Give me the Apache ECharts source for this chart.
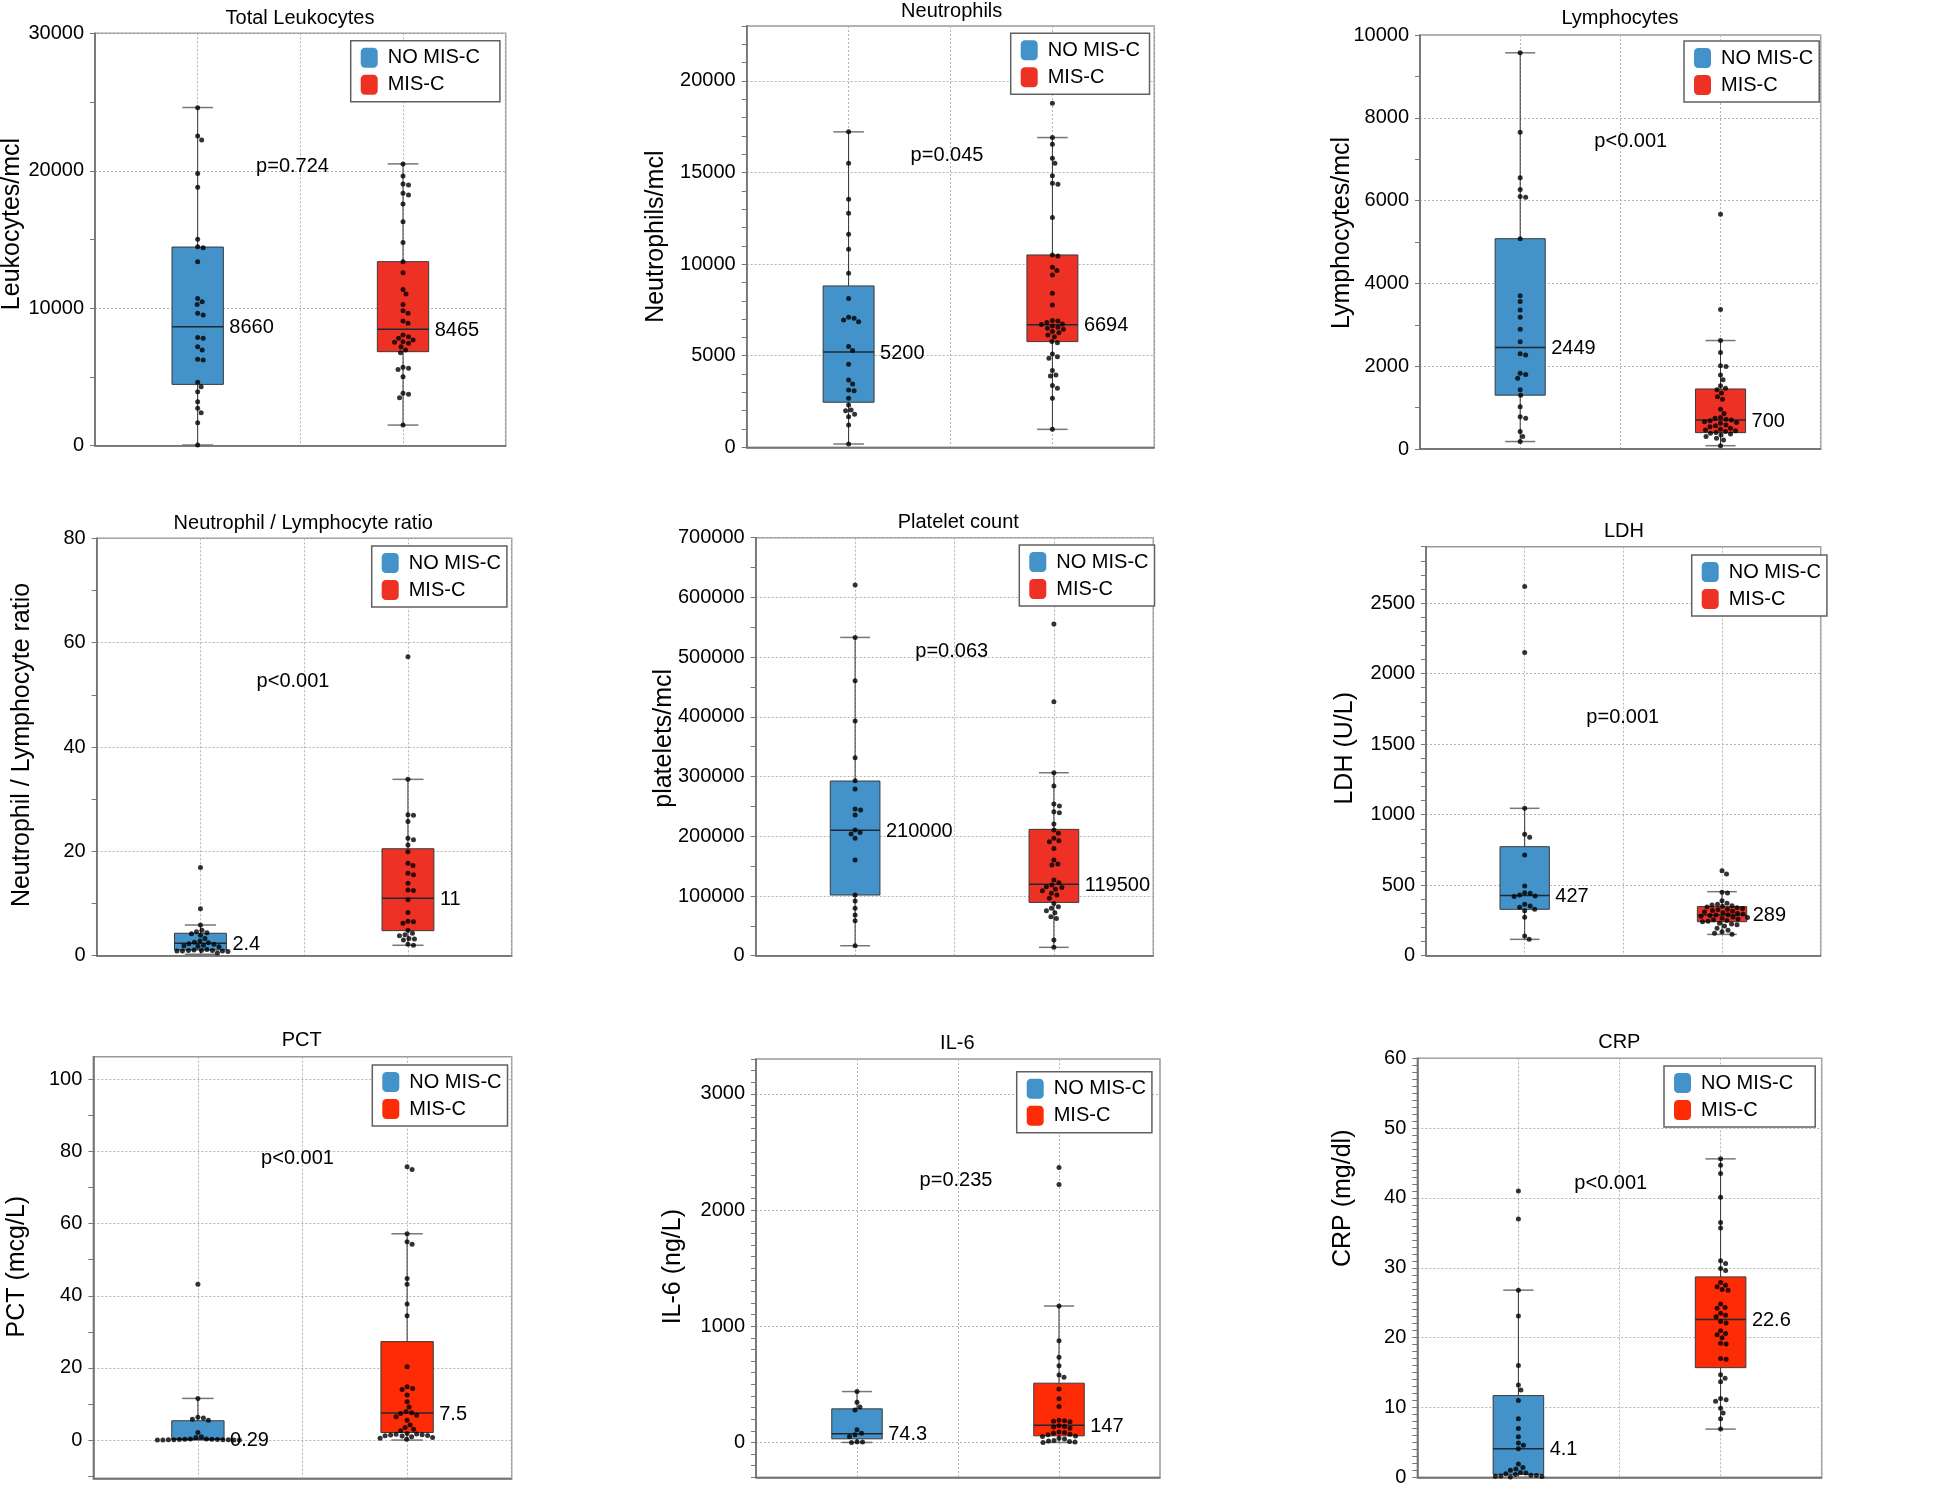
<!DOCTYPE html>
<html>
<head>
<meta charset="utf-8">
<title>MIS-C vs NO MIS-C laboratory values</title>
<script src="https://cdn.jsdelivr.net/npm/echarts@6/dist/echarts.min.js"></script>
<style>
html, body { margin: 0; padding: 0; background: #fff; }
#main { width: 1960px; height: 1488px; }
</style>
</head>
<body>
<div id="main"></div>
<script>
// ---- data ----
var groupNames = ['NO MIS-C', 'MIS-C'];
var panelTitles = ['Total Leukocytes', 'Neutrophils', 'Lymphocytes', 'Neutrophil / Lymphocyte ratio',
    'Platelet count', 'LDH', 'PCT', 'IL-6', 'CRP'];
var yNames = ['Leukocytes/mcl', 'Neutrophils/mcl', 'Lymphocytes/mcl', 'Neutrophil / Lymphocyte ratio',
    'platelets/mcl', 'LDH (U/L)', 'PCT (mcg/L)', 'IL-6 (ng/L)', 'CRP (mg/dl)'];
var pTexts = ['p=0.724', 'p=0.045', 'p<0.001', 'p<0.001', 'p=0.063', 'p=0.001', 'p<0.001', 'p=0.235', 'p<0.001'];

// box stats: [min, Q1, median, Q3, max]
var leukoBoxes = [[50, 4460, 8660, 14450, 24600], [1500, 6840, 8465, 13390, 20500]];
var neutroBoxes = [[180, 2460, 5200, 8810, 17220], [980, 5770, 6694, 10500, 16910]];
var lymphoBoxes = [[180, 1300, 2449, 5080, 9570], [80, 395, 700, 1450, 2620]];
var nlrBoxes = [[0.3, 1.1, 2.4, 4.3, 5.9], [2.0, 4.8, 11, 20.5, 33.8]];
var pltBoxes = [[16700, 101600, 210000, 292500, 533000], [14000, 89300, 119500, 211600, 306400]];
var ldhBoxes = [[116, 329, 427, 773, 1045], [151, 241, 289, 348, 454]];
var pctBoxes = [[0, 0.18, 0.29, 5.36, 11.55], [0, 2.1, 7.5, 27.3, 57.2]];
var il6Boxes = [[0, 31, 74.3, 289, 438], [0, 57, 147, 510, 1174]];
var crpBoxes = [[0, 0.43, 4.1, 11.7, 26.8], [6.9, 15.7, 22.6, 28.7, 45.6]];

// individual patients
var leukoNoMis = [24590, 22530, 22240, 19810, 18800, 15010, 14480, 14400, 13390, 10700, 10480, 10280, 9630, 9510,
    7880, 7810, 7200, 6960, 6280, 6230, 4610, 4290, 3930, 3200, 2720, 2400, 1670, 50];
var leukoMis = [20490, 19620, 19040, 18970, 18360, 18240, 17580, 16300, 14790, 13390, 12590, 11370, 11040, 10280,
    9820, 9630, 9070, 8900, 8050, 7930, 7810, 7690, 7570, 7520, 7450, 7200, 6960, 6770, 5700, 5630, 5550, 5020,
    3810, 3740, 3490, 1500];
var neutroNoMis = [17220, 15510, 13540, 12780, 11630, 10810, 9500, 8130, 7100, 7040, 6950, 6860, 5500, 5280, 4530,
    3680, 3460, 3130, 3090, 2680, 2310, 2040, 2000, 1800, 1670, 1220, 180];
var neutroMis = [18780, 16910, 16540, 15780, 15510, 14830, 14410, 14360, 12540, 10500, 10450, 9830, 9650, 9410,
    8410, 7770, 6920, 6900, 6810, 6730, 6700, 6620, 6550, 6500, 6440, 6320, 6260, 6130, 6040, 5770, 5710, 5100,
    4950, 4860, 4190, 3950, 3890, 3370, 3220, 2680, 980];
var lymphoNoMis = [9570, 7650, 6550, 6270, 6100, 6080, 5080, 3700, 3560, 3360, 3180, 2890, 2590, 2300, 2270, 1830,
    1800, 1710, 1430, 1300, 1020, 780, 740, 420, 300, 180];
var lymphoMis = [5670, 3370, 2620, 2330, 2010, 1990, 1790, 1670, 1530, 1470, 1430, 1350, 1260, 1200, 960, 860, 760,
    740, 720, 700, 680, 660, 640, 620, 580, 560, 540, 500, 480, 460, 440, 420, 400, 380, 360, 340, 300, 260, 220, 80];
var nlrNoMis = [16.9, 9.0, 5.9, 4.9, 4.6, 4.4, 4.2, 3.9, 3.3, 2.8, 2.6, 2.5, 2.3, 2.2, 2.0, 1.9, 1.8, 1.7, 1.2, 1.1,
    1.0, 1.0, 1.0, 0.9, 0.9, 0.9, 0.8, 0.5];
var nlrMis = [57.3, 33.8, 27.0, 26.9, 25.7, 22.5, 22.2, 21.2, 19.9, 17.7, 17.3, 15.8, 15.5, 13.9, 12.6, 12.5, 10.7,
    8.3, 6.6, 6.5, 6.2, 4.9, 4.3, 4.0, 3.8, 3.3, 3.2, 3.0, 2.2, 2.0];
var pltNoMis = [620700, 533000, 460500, 393000, 331600, 293000, 279100, 245600, 243900, 235600, 210400, 206500,
    203700, 196500, 160200, 101600, 91500, 79300, 68100, 58600, 16700];
var pltMis = [555400, 425300, 306400, 284100, 254000, 250600, 241100, 239400, 220500, 210400, 204900, 196500, 192600,
    190900, 179700, 160200, 153500, 151800, 126700, 122200, 118300, 115500, 114400, 111100, 108800, 104400, 101600,
    96000, 87600, 82000, 79300, 75400, 72000, 65300, 62500, 26200, 14000];
var ldhNoMis = [2618, 2150, 1045, 861, 840, 714, 494, 447, 442, 430, 423, 419, 364, 352, 343, 329, 319, 272, 140, 116];
var ldhMis = [603, 580, 450, 445, 390, 372, 365, 360, 355, 350, 345, 340, 335, 330, 325, 320, 315, 310, 305, 300, 295,
    290, 289, 285, 280, 275, 270, 265, 260, 255, 250, 245, 240, 230, 225, 220, 210, 195, 180, 170, 160, 152];
var pctNoMis = [43.2, 11.5, 6.3, 6.1, 5.8, 5.5, 2.1, 0.9, 0.7, 0.3, 0.28, 0.25, 0.2, 0.18, 0.15, 0.12, 0.1, 0.08,
    0.06, 0.05, 0.03, 0.02, 0.01];
var pctMis = [75.8, 75.0, 57.2, 55.0, 54.3, 44.8, 43.2, 37.7, 34.5, 20.3, 14.8, 14.3, 14.0, 12.5, 10.6, 9.2, 7.9, 7.6,
    7.4, 6.9, 6.5, 5.5, 4.2, 3.5, 3.0, 2.6, 1.8, 1.7, 1.6, 1.5, 1.4, 1.3, 1.2, 1.1, 0.9, 0.7, 0.5, 0.2];
var il6NoMis = [438, 345, 305, 280, 110, 80, 66, 52, 5, 3, 0];
var il6Mis = [2367, 2219, 1174, 876, 733, 661, 581, 561, 461, 375, 309, 190, 186, 182, 178, 143, 138, 132, 123, 90,
    86, 80, 70, 66, 56, 52, 37, 29, 17, 12, 9, 4, 0];
var crpNoMis = [41.0, 37.0, 26.8, 23.1, 16.0, 13.2, 12.5, 11.0, 8.4, 7.0, 5.8, 4.9, 4.6, 4.1, 1.9, 1.4, 1.2, 1.0, 0.7,
    0.6, 0.5, 0.4, 0.3, 0.25, 0.2, 0.15, 0.1, 0.05];
var crpMis = [45.6, 44.7, 43.5, 40.1, 36.5, 35.7, 31.0, 30.6, 29.9, 29.6, 27.9, 27.5, 27.3, 26.9, 26.8, 24.8, 24.3,
    24.2, 23.5, 23.2, 23.0, 22.3, 22.1, 21.0, 20.6, 20.4, 20.0, 19.2, 19.1, 17.0, 16.9, 14.7, 14.2, 13.7, 11.3, 11.1,
    10.9, 9.9, 9.2, 8.4, 6.9];

// y tick labels
var leukoTicks = [0, 10000, 20000, 30000];
var neutroTicks = [0, 5000, 10000, 15000, 20000];
var lymphoTicks = [0, 2000, 4000, 6000, 8000, 10000];
var nlrTicks = [0, 20, 40, 60, 80];
var pltTicks = [0, 100000, 200000, 300000, 400000, 500000, 600000, 700000];
var ldhTicks = [0, 500, 1000, 1500, 2000, 2500];
var pctTicks = [0, 20, 40, 60, 80, 100];
var il6Ticks = [0, 1000, 2000, 3000];
var crpTicks = [0, 10, 20, 30, 40, 50, 60];

// ---- layout ----
var FONT = '"Liberation Sans", Arial, Helvetica, sans-serif';
var FS = 20;
var BLUE = '#4392c9';
var RED = '#ed3225';
var RED2 = '#fd2b06';
var boxPos = [1, 3];

var panels = [
    {boxes: leukoBoxes, pts: [leukoNoMis, leukoMis], ticks: leukoTicks, yMin: 0, yMax: 30000, minor: 5000,
        grid: [95, 33.3, 410.7, 412.4], title: [300, 18.3], name: [12, 224], p: [292.5, 166], legend: [350.7, 40.7, 148], red: RED},
    {boxes: neutroBoxes, pts: [neutroNoMis, neutroMis], ticks: neutroTicks, yMin: 0, yMax: 23000, minor: 1000,
        grid: [746.7, 26, 407.6, 421.3], title: [951.7, 11.7], name: [656, 236.7], p: [947, 155], legend: [1010.7, 33.3, 137.6], red: RED},
    {boxes: lymphoBoxes, pts: [lymphoNoMis, lymphoMis], ticks: lymphoTicks, yMin: 0, yMax: 10000, minor: 1000,
        grid: [1420, 35, 400.7, 414], title: [1620, 18.3], name: [1342, 233], p: [1630.8, 141], legend: [1684, 41, 131], red: RED},
    {boxes: nlrBoxes, pts: [nlrNoMis, nlrMis], ticks: nlrTicks, yMin: 0, yMax: 80, minor: 10,
        grid: [96.7, 538.3, 415, 417.4], title: [303.3, 523.3], name: [22, 745], p: [293, 681], legend: [371.7, 546, 134], red: RED},
    {boxes: pltBoxes, pts: [pltNoMis, pltMis], ticks: pltTicks, yMin: 0, yMax: 700000, minor: 50000,
        grid: [755.7, 537.7, 397.6, 418], title: [958.3, 522.7], name: [664, 738.3], p: [951.7, 651], legend: [1019.3, 545, 134], red: RED},
    {boxes: ldhBoxes, pts: [ldhNoMis, ldhMis], ticks: ldhTicks, yMin: 0, yMax: 2900, minor: 100,
        grid: [1426, 546.7, 394.7, 409], title: [1624, 531.7], name: [1345, 748.3], p: [1622.8, 717.5], legend: [1691.7, 555, 123.3], red: RED},
    {boxes: pctBoxes, pts: [pctNoMis, pctMis], ticks: pctTicks, yMin: -10.6, yMax: 106.3, minor: 10,
        grid: [93.3, 1056.7, 418.4, 421.6], title: [301.7, 1040.7], name: [17, 1266.7], p: [297.5, 1158.5], legend: [372.3, 1065, 133.4], red: RED2},
    {boxes: il6Boxes, pts: [il6NoMis, il6Mis], ticks: il6Ticks, yMin: -300, yMax: 3300, minor: 100,
        grid: [756, 1059, 404, 418.3], title: [957.3, 1043.3], name: [673.3, 1266.7], p: [956, 1180], legend: [1016.7, 1071.7, 126.6], red: RED2},
    {boxes: crpBoxes, pts: [crpNoMis, crpMis], ticks: crpTicks, yMin: 0, yMax: 60, minor: 1,
        grid: [1417.3, 1058.3, 404.4, 419], title: [1619.3, 1042.7], name: [1343.3, 1198.3], p: [1610.8, 1183.5], legend: [1664, 1066, 150], red: RED2}
];

function stepTicks(min, max, step) {
    var out = [];
    for (var v = Math.ceil(min / step - 1e-9) * step; v <= max + 1e-9; v += step) {
        out.push(Math.round(v * 1e6) / 1e6);
    }
    return out;
}

// beeswarm: spread equal-ish values sideways so the dots do not overlap
function swarm(values, center, g, yMin, yMax) {
    var pxX = g[2] / 4, pxY = g[3] / (yMax - yMin);
    var d = 5.4;
    var placed = [];
    var out = [];
    values.slice().sort(function (a, b) { return b - a; }).forEach(function (v) {
        var py = (v - yMin) * pxY;
        var dx = 0;
        for (var k = 0; k < 400; k++) {
            var cand = (k % 2 ? 1 : -1) * Math.ceil(k / 2) * 0.5;
            var ok = true;
            for (var j = 0; j < placed.length; j++) {
                var ex = cand - placed[j][0], ey = py - placed[j][1];
                if (ex * ex + ey * ey < d * d) { ok = false; break; }
            }
            if (ok) { dx = cand; break; }
        }
        placed.push([dx, py]);
        out.push([center + dx / pxX, v]);
    });
    return out;
}

function renderBox(params, api) {
    var x = api.value(0);
    var lo = api.coord([x, api.value(1)]);
    var q1 = api.coord([x, api.value(2)]);
    var md = api.coord([x, api.value(3)]);
    var q3 = api.coord([x, api.value(4)]);
    var hi = api.coord([x, api.value(5)]);
    var bw = api.size([0.5, 0])[0];
    var cw = api.size([0.3, 0])[0];
    var cx = md[0];
    return {
        type: 'group',
        children: [
            {type: 'line', shape: {x1: cx, y1: lo[1], x2: cx, y2: hi[1]}, style: {stroke: '#333', lineWidth: 1}},
            {type: 'line', shape: {x1: cx - cw / 2, y1: lo[1], x2: cx + cw / 2, y2: lo[1]}, style: {stroke: '#777', lineWidth: 1.5}},
            {type: 'line', shape: {x1: cx - cw / 2, y1: hi[1], x2: cx + cw / 2, y2: hi[1]}, style: {stroke: '#777', lineWidth: 1.5}},
            {type: 'rect', shape: {x: cx - bw / 2, y: q3[1], width: bw, height: q1[1] - q3[1]},
                style: {fill: api.visual('color'), stroke: '#3a3a3a', lineWidth: 1}},
            {type: 'line', shape: {x1: cx - bw / 2, y1: md[1], x2: cx + bw / 2, y2: md[1]}, style: {stroke: '#1e2a33', lineWidth: 1.5}},
            {type: 'text', x: cx + bw / 2 + 6, y: md[1] + 1,
                style: {text: String(api.value(3)), font: FS + 'px ' + FONT, fill: '#000',
                    align: 'left', verticalAlign: 'middle', textAlign: 'left', textVerticalAlign: 'middle'}}
        ]
    };
}

var gridLine = {show: true, lineStyle: {color: '#b4b4b4', type: [2, 2], width: 1}};

var option = {
    backgroundColor: '#fff',
    animation: false,
    grid: [], xAxis: [], yAxis: [], legend: [], series: [],
    graphic: {elements: []}
};

panels.forEach(function (P, i) {
    option.grid.push({
        left: P.grid[0], top: P.grid[1], width: P.grid[2], height: P.grid[3],
        show: true, borderColor: '#9a9a9a', borderWidth: 1.5
    });
    option.xAxis.push({
        gridIndex: i, type: 'value', min: 0, max: 4, interval: 1,
        axisLine: {show: true, onZero: false, lineStyle: {color: '#666', width: 1.5}},
        axisTick: {show: false}, axisLabel: {show: false},
        splitLine: gridLine
    });
    option.yAxis.push({
        gridIndex: i, type: 'value', position: 'left', min: P.yMin, max: P.yMax,
        axisLine: {show: true, onZero: false, lineStyle: {color: '#666', width: 1.5}},
        axisTick: {show: true, length: 5, customValues: stepTicks(P.yMin, P.yMax, P.minor), lineStyle: {color: '#777'}},
        axisLabel: {customValues: P.ticks, margin: 11, fontSize: FS, fontFamily: FONT, color: '#000',
            formatter: function (v) { return String(v); }},
        splitLine: {show: false}
    });
    // second axis only draws the dotted horizontal grid lines at the labelled values
    option.yAxis.push({
        gridIndex: i, type: 'value', position: 'right', min: P.yMin, max: P.yMax,
        axisLine: {show: false, onZero: false}, axisTick: {show: false, customValues: P.ticks}, axisLabel: {show: false},
        splitLine: gridLine
    });
    option.legend.push({
        left: P.legend[0], top: P.legend[1], orient: 'vertical',
        itemWidth: 17, itemHeight: 20, itemGap: 7,
        padding: [7, Math.max(6, P.legend[2] - 128), 7, 10],
        borderColor: '#606060', borderWidth: 1.5, backgroundColor: '#fff',
        selectedMode: false, z: 6,
        textStyle: {fontSize: FS, fontFamily: FONT, color: '#000', padding: [0, 0, 0, 5]},
        data: [
            {name: groupNames[0], icon: 'roundRect', itemStyle: {color: BLUE}},
            {name: groupNames[1], icon: 'roundRect', itemStyle: {color: P.red}}
        ]
    });
    [0, 1].forEach(function (gi) {
        option.series.push({
            type: 'custom', name: groupNames[gi], xAxisIndex: i, yAxisIndex: 2 * i,
            renderItem: renderBox, silent: true, z: 2,
            itemStyle: {color: gi ? P.red : BLUE},
            encode: {x: 0, y: [1, 2, 3, 4, 5]},
            data: [[boxPos[gi]].concat(P.boxes[gi])]
        });
        option.series.push({
            type: 'scatter', name: groupNames[gi], xAxisIndex: i, yAxisIndex: 2 * i,
            symbol: 'circle', symbolSize: 5, silent: true, z: 3,
            itemStyle: {color: '#000'},
            data: swarm(P.pts[gi], boxPos[gi], P.grid, P.yMin, P.yMax)
        });
    });
    option.graphic.elements.push({
        type: 'text', x: P.title[0], y: P.title[1], z: 10,
        style: {text: panelTitles[i], font: FS + 'px ' + FONT, fill: '#000',
            align: 'center', verticalAlign: 'middle', textAlign: 'center', textVerticalAlign: 'middle'}
    });
    option.graphic.elements.push({
        type: 'text', x: P.name[0], y: P.name[1], rotation: Math.PI / 2, z: 10,
        style: {text: yNames[i], font: '25px ' + FONT, fill: '#000',
            align: 'center', verticalAlign: 'middle', textAlign: 'center', textVerticalAlign: 'middle'}
    });
    option.graphic.elements.push({
        type: 'text', x: P.p[0], y: P.p[1], z: 10,
        style: {text: pTexts[i], font: FS + 'px ' + FONT, fill: '#000',
            align: 'center', verticalAlign: 'middle', textAlign: 'center', textVerticalAlign: 'middle'}
    });
});

var myChart = echarts.init(document.getElementById('main'));
myChart.setOption(option);
</script>
</body>
</html>
